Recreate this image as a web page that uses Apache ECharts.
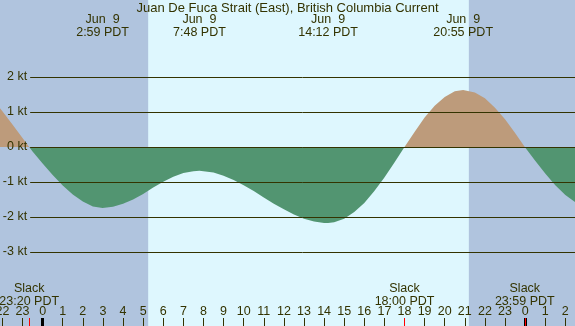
<!doctype html>
<html lang="en">
<head>
    <meta charset="utf-8">
    <title>Juan De Fuca Strait (East) current</title>
    <script src="https://cdn.jsdelivr.net/npm/echarts@6/dist/echarts.min.js"></script>
    <style>
        html, body { margin: 0; padding: 0; }
        #chart { width: 575px; height: 326px; }
    </style>
</head>
<body>
    <div id="chart"></div>
    <script>
        // hours since midnight Jun 9 (negative = Jun 8), current speed in knots
        let times = [-2.12, -2, -1.5, -1, -0.667, -0.5, 0, 0.5, 1, 1.5, 2, 2.5, 2.983,
            3.5, 4, 4.5, 5, 5.5, 6, 6.5, 7, 7.5, 7.8,
            8, 8.5, 9, 9.5, 10, 10.5, 11, 11.5, 12, 12.5, 13, 13.5, 14, 14.2,
            14.5, 15, 15.5, 16, 16.5, 17, 17.5, 18,
            18.5, 19, 19.5, 20, 20.5, 20.917,
            21.5, 22, 22.5, 23, 23.5, 23.983,
            24.5, 25, 25.5, 26, 26.5];
        let speeds = [1.11, 1.02, 0.64, 0.26, 0, -0.13, -0.47, -0.80, -1.10, -1.36, -1.56, -1.70, -1.74,
            -1.71, -1.62, -1.50, -1.34, -1.16, -0.99, -0.85, -0.74, -0.69, -0.68,
            -0.69, -0.73, -0.82, -0.94, -1.09, -1.26, -1.44, -1.62, -1.78, -1.93, -2.05, -2.13, -2.17, -2.17,
            -2.15, -2.05, -1.86, -1.60, -1.26, -0.87, -0.44, 0,
            0.43, 0.84, 1.18, 1.43, 1.59, 1.63,
            1.56, 1.39, 1.12, 0.79, 0.40, 0,
            -0.39, -0.76, -1.09, -1.37, -1.58];

        let eventHours = [2.983, 7.8, 14.2, 20.917];
        let eventLabels = ['2:59 PDT', '7:48 PDT', '14:12 PDT', '20:55 PDT'];
        let slackHours = [-0.667, 18.0, 23.983];
        let slackLabels = ['23:20 PDT', '18:00 PDT', '23:59 PDT'];
        let sunHours = [5.25, 21.2];   // sunrise, sunset
        let hourTicks = [];
        for (let h = -2; h <= 26; h++) hourTicks.push(h);
        let midnightTicks = [0, 24];
        let ktLevels = [2, 1, 0, -1, -2, -3];

        const X_MIN = -2.12, X_MAX = 26.48;
        const Y_MIN = -5.114, Y_MAX = 4.2;
        const TXT = '#333300';
        const FONT = 'Liberation Sans';
        const FS = 12.5;

        let flood = times.map((t, i) => [t, Math.max(speeds[i], 0)]);
        let ebb = times.map((t, i) => [t, Math.min(speeds[i], 0)]);

        function baseX(extra) {
            return Object.assign({
                type: 'value', min: X_MIN, max: X_MAX, position: 'bottom', z: 10,
                axisLine: { show: false, onZero: false }, splitLine: { show: false },
                axisTick: { show: false }, axisLabel: { show: false }
            }, extra);
        }

        let chart = echarts.init(document.getElementById('chart'));
        let option = {
            animation: false,
            backgroundColor: '#b0c4de',
            textStyle: { fontFamily: FONT },
            title: {
                text: 'Juan De Fuca Strait (East), British Columbia Current',
                left: 'center', top: 2, padding: 0,
                textStyle: { fontSize: 13, fontWeight: 'normal', color: TXT, fontFamily: FONT }
            },
            grid: { left: 0, right: 0, top: 0, bottom: 0, outerBoundsMode: 'none', containLabel: false },
            xAxis: [
                baseX({
                    axisTick: { show: true, inside: true, length: 8, customValues: hourTicks, lineStyle: { color: TXT } },
                    axisLabel: {
                        show: true, inside: true, margin: 8, customValues: hourTicks,
                        fontSize: FS, color: TXT, fontFamily: FONT,
                        formatter: v => String(((v % 24) + 24) % 24)
                    }
                }),
                baseX({
                    axisTick: { show: true, inside: true, length: 8, customValues: midnightTicks, lineStyle: { color: '#000', width: 3 } }
                }),
                baseX({
                    axisTick: { show: true, inside: true, length: 8, customValues: slackHours, lineStyle: { color: '#ff0000', width: 1 } }
                }),
                baseX({
                    axisLabel: {
                        show: true, inside: true, margin: 18, customValues: slackHours,
                        fontSize: FS, lineHeight: 13, color: TXT, fontFamily: FONT,
                        formatter: v => 'Slack\n' + slackLabels[slackHours.indexOf(v)]
                    }
                }),
                baseX({
                    position: 'top',
                    axisLabel: {
                        show: true, inside: true, margin: 13, customValues: eventHours,
                        fontSize: FS, lineHeight: 13, color: TXT, fontFamily: FONT,
                        formatter: v => 'Jun  9\n' + eventLabels[eventHours.indexOf(v)]
                    }
                })
            ],
            yAxis: { type: 'value', min: Y_MIN, max: Y_MAX, show: false },
            series: [
                {
                    type: 'line', data: [], z: 1, silent: true,
                    markArea: {
                        silent: true,
                        itemStyle: { color: '#def7fe' },
                        data: [[{ xAxis: sunHours[0] }, { xAxis: sunHours[1] }]]
                    }
                },
                {
                    type: 'line', data: [], z: 2, silent: true,
                    markLine: {
                        silent: true, symbol: 'none', animation: false,
                        lineStyle: { color: TXT, width: 1, type: 'solid' },
                        label: {
                            show: true, position: 'start', distance: 3,
                            fontSize: FS, color: TXT, fontFamily: FONT,
                            formatter: p => p.data.kt + ' kt'
                        },
                        data: ktLevels.map(k => [
                            { coord: [-0.62, k], kt: k },
                            { coord: [X_MAX, k] }
                        ])
                    }
                },
                {
                    type: 'line', data: flood, z: 3, showSymbol: false, symbol: 'none', silent: true,
                    lineStyle: { width: 0 },
                    areaStyle: { color: '#bd9b7b', opacity: 1 }
                },
                {
                    type: 'line', data: ebb, z: 3, showSymbol: false, symbol: 'none', silent: true,
                    lineStyle: { width: 0 },
                    areaStyle: { color: '#529571', opacity: 1 }
                }
            ]
        };
        chart.setOption(option);
    </script>
</body>
</html>
